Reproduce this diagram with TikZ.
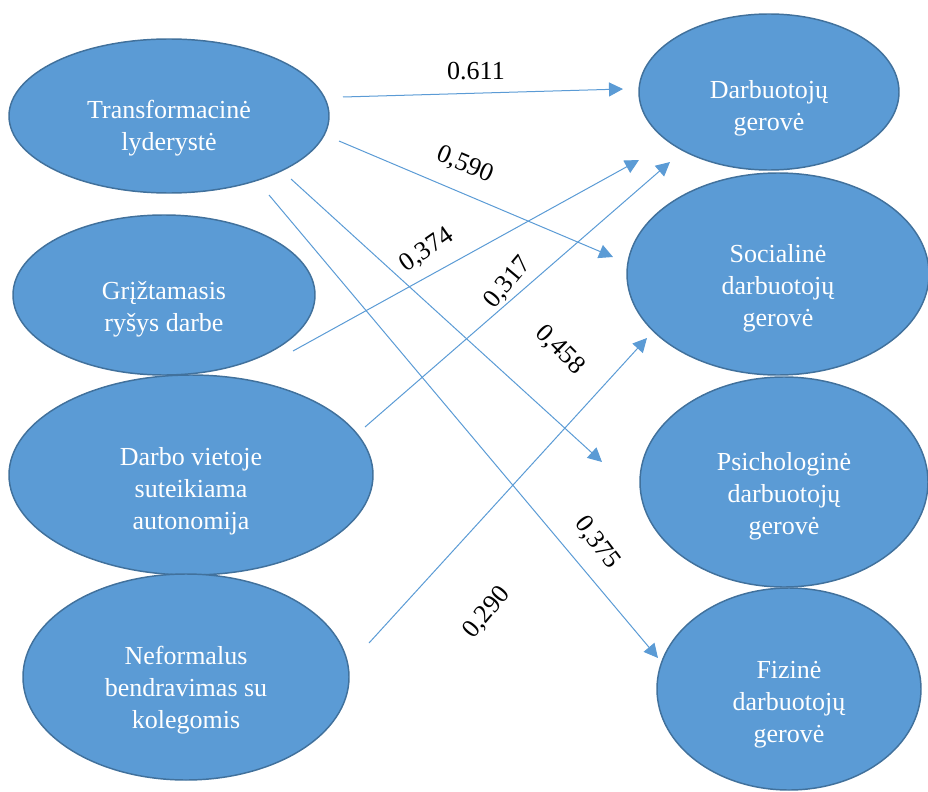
\documentclass[tikz,border=0pt]{standalone}
\usepackage{fontspec}
\setmainfont{Liberation Serif}
\usetikzlibrary{shapes.geometric,arrows.meta}
\definecolor{ovalFill}{HTML}{5B9BD5}
\definecolor{ovalEdge}{HTML}{41719C}
\definecolor{linkBlue}{HTML}{5B9BD5}

\begin{document}
\begin{tikzpicture}[x=0.75pt,y=-0.75pt,
  oval/.style={ellipse, draw=ovalEdge, line width=1.1pt, fill=ovalFill, inner sep=0pt},
  caption/.style={text=white, align=center, inner sep=0pt, font=\fontsize{19.5}{24}\selectfont},
  link/.style={draw=linkBlue, line width=0.75pt, -{Triangle[length=10.5pt,width=10.5pt]}},
  coef/.style={font=\fontsize{19.5}{24}\selectfont, inner sep=0pt}]
\useasboundingbox (0,0) rectangle (928,792);

% predictors (left column)
\node[oval, minimum width=240pt,   minimum height=115.5pt] (T) at (169,116) {};
\node[oval, minimum width=226.5pt, minimum height=120pt]   (G) at (164,295) {};
\node[oval, minimum width=273pt,   minimum height=150pt]   (D) at (191,475) {};
\node[oval, minimum width=244.5pt, minimum height=154.5pt] (N) at (186,677) {};

% outcomes (right column)
\node[oval, minimum width=195pt,   minimum height=117pt]   (W) at (769,92) {};
\node[oval, minimum width=226.5pt, minimum height=151.5pt] (S) at (778,274) {};
\node[oval, minimum width=216pt,   minimum height=157.5pt] (P) at (784,482) {};
\node[oval, minimum width=198pt,   minimum height=151.5pt] (F) at (789,689) {};

% captions
\node[caption] (Tt) at ([yshift=-9pt]T.center) {Transformacinė\\lyderystė};
\node[caption] (Gt) at ([yshift=-11pt]G.center) {Grįžtamasis\\ryšys darbe};
\node[caption] (Dt) at ([yshift=-12pt]D.center) {Darbo vietoje\\suteikiama\\autonomija};
\node[caption] (Nt) at ([yshift=-10pt]N.center) {Neformalus\\bendravimas su\\kolegomis};
\node[caption] (Wt) at ([yshift=-12pt]W.center) {Darbuotojų\\gerovė};
\node[caption] (St) at ([yshift=-11pt]S.center) {Socialinė\\darbuotojų\\gerovė};
\node[caption] (Pt) at ([yshift=-11pt]P.center) {Psichologinė\\darbuotojų\\gerovė};
\node[caption] (Ft) at ([yshift=-12pt]F.center) {Fizinė\\darbuotojų\\gerovė};

% paths
\draw[link] ([shift={(174,-19)}]T.center) -- ([shift={(-146,-3)}]W.center);
\draw[link] ([shift={(170,25)}]T.center)  -- ([shift={(-165,-17)}]S.center);
\draw[link] ([shift={(129,56)}]G.center)  -- ([shift={(-130,68)}]W.center);
\draw[link] ([shift={(174,-48)}]D.center) -- ([shift={(-99,70)}]W.center);
\draw[link] ([shift={(122,63)}]T.center)  -- ([shift={(-182,-20)}]P.center);
\draw[link] ([shift={(100,79)}]T.center)  -- ([shift={(-131,-31)}]F.center);
\draw[link] ([shift={(183,-34)}]N.center) -- ([shift={(-131,64)}]S.center);

% path coefficients
\node[coef] (c1) at (476,71) {0.611};
\node[coef, rotate=-23] (c2) at (465,165) {0,590};
\node[coef, rotate=35]  (c3) at (427,250) {0,374};
\node[coef, rotate=50]  (c4) at (508,283) {0,317};
\node[coef, rotate=-45] (c5) at (560,350) {0,458};
\node[coef, rotate=-53] (c6) at (597,543) {0,375};
\node[coef, rotate=50]  (c7) at (487,613) {0,290};
\end{tikzpicture}
\end{document}
